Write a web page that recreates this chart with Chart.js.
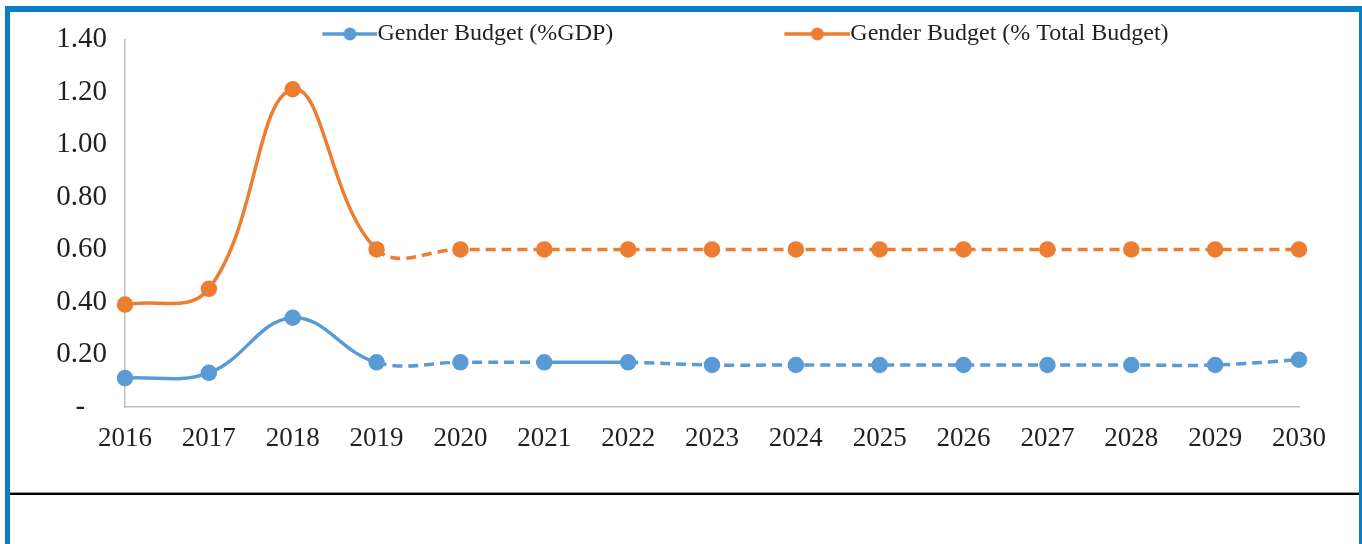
<!DOCTYPE html>
<html><head><meta charset="utf-8">
<script src="https://cdn.jsdelivr.net/npm/chart.js@4.4.1/dist/chart.umd.min.js"></script>
<style>
html,body{margin:0;padding:0;background:#fff;width:1362px;height:544px;overflow:hidden;position:relative}
.bd{position:absolute;background:#0b7fc6;z-index:2}
#top{left:5px;top:6px;width:1357px;height:6px}
#left{left:5px;top:6px;width:5px;height:538px}
#right{left:1359px;top:6px;width:3px;height:538px}
#rule{position:absolute;left:10px;top:492px;width:1349px;height:2px;background:#000;border-top:1px solid #999}
#c{position:absolute;left:10px;top:4px}
</style></head>
<body>
<canvas id="c" width="1346" height="486"></canvas>
<div id="top" class="bd"></div><div id="left" class="bd"></div><div id="right" class="bd"></div>
<div id="rule"></div>
<script>
// ---- data ----
const years = ['2016','2017','2018','2019','2020','2021','2022','2023','2024','2025','2026','2027','2028','2029','2030'];
const gdpShare    = [0.11, 0.13, 0.34, 0.17, 0.17, 0.17, 0.17, 0.16, 0.16, 0.16, 0.16, 0.16, 0.16, 0.16, 0.18];
const budgetShare = [0.39, 0.45, 1.21, 0.60, 0.60, 0.60, 0.60, 0.60, 0.60, 0.60, 0.60, 0.60, 0.60, 0.60, 0.60];
const seriesNames = ['Gender Budget (%GDP)', 'Gender Budget (% Total Budget)'];
const yTickValues = [0, 0.2, 0.4, 0.6, 0.8, 1.0, 1.2, 1.4];
// segments (by start index) drawn solid; others dashed
const gdpSolidSegments = [0, 1, 2, 5];
const budgetSolidSegments = [0, 1, 2];

const BLUE = '#5b9bd5', ORANGE = '#ed7d31';
const FONT = "'Liberation Serif', 'Times New Roman', serif";
const LEG_FS = 24, LEG_B = 206, LEG_P = 19;
const LEG_CENTER_Y = 30; // canvas px

function legendMarker(color, markW) {
  const c = document.createElement('canvas');
  c.width = LEG_B + LEG_FS; c.height = 18;
  const g = c.getContext('2d');
  const x0 = c.width - markW, x1 = c.width;
  g.strokeStyle = color; g.lineWidth = 3.5;
  g.beginPath(); g.moveTo(x0, 9); g.lineTo(x1, 9); g.stroke();
  g.fillStyle = color;
  g.beginPath(); g.arc((x0 + x1) / 2, 9, 6.5, 0, Math.PI * 2); g.fill();
  return c;
}
const markers = [legendMarker(BLUE, 55), legendMarker(ORANGE, 66)];

const dash = solid => ctx => solid.includes(ctx.p0DataIndex) ? [] : [10, 6];

const legendPlace = {
  id: 'legendPlace',
  afterLayout(chart) {
    const l = chart.legend;
    if (!l) return;
    l.top = LEG_CENTER_Y - LEG_P - LEG_FS / 2;
    l.bottom = l.top + 70;
  }
};

new Chart(document.getElementById('c'), {
  type: 'line',
  plugins: [legendPlace],
  data: {
    labels: years,
    datasets: [
      { label: seriesNames[0], data: gdpShare, borderColor: BLUE, backgroundColor: BLUE,
        borderWidth: 3.5, pointRadius: 6.5, pointHoverRadius: 6.5, tension: 0.4,
        segment: { borderDash: dash(gdpSolidSegments) } },
      { label: seriesNames[1], data: budgetShare, borderColor: ORANGE, backgroundColor: ORANGE,
        borderWidth: 3.5, pointRadius: 6.5, pointHoverRadius: 6.5, tension: 0.4,
        segment: { borderDash: dash(budgetSolidSegments) } }
    ]
  },
  options: {
    responsive: false, animation: false, devicePixelRatio: 1,
    layout: { padding: { left: 19, right: 57, top: 0, bottom: 0 } },
    plugins: {
      tooltip: { enabled: false },
      legend: {
        position: 'top', maxHeight: 25,
        labels: {
          usePointStyle: true, pointStyleWidth: LEG_B, padding: LEG_P,
          color: '#231f20', font: { family: FONT, size: LEG_FS },
          generateLabels: chart => Chart.defaults.plugins.legend.labels.generateLabels(chart)
            .map((it, i) => Object.assign(it, { pointStyle: markers[i], lineWidth: 0 }))
        }
      }
    },
    scales: {
      x: {
        type: 'category', offset: false,
        grid: { display: false, drawTicks: false },
        border: { display: true, color: '#c0c0c0', width: 1.5 },
        ticks: { color: '#231f20', font: { family: FONT, size: 27 }, padding: 16, maxRotation: 0, autoSkip: false },
        afterFit: s => { s.height = 83; }
      },
      y: {
        min: 0, max: 1.4,
        afterBuildTicks: s => { s.ticks = yTickValues.map(v => ({ value: v })); },
        grid: { display: false, drawTicks: false },
        border: { display: true, color: '#c0c0c0', width: 1.5 },
        ticks: { color: '#231f20', font: { family: FONT, size: 29 }, padding: 18,
          callback: v => Math.abs(v) < 1e-9 ? '-   ' : Number(v).toFixed(2) },
        afterFit: s => { s.width = 96; }
      }
    }
  }
});
</script>
</body></html>
